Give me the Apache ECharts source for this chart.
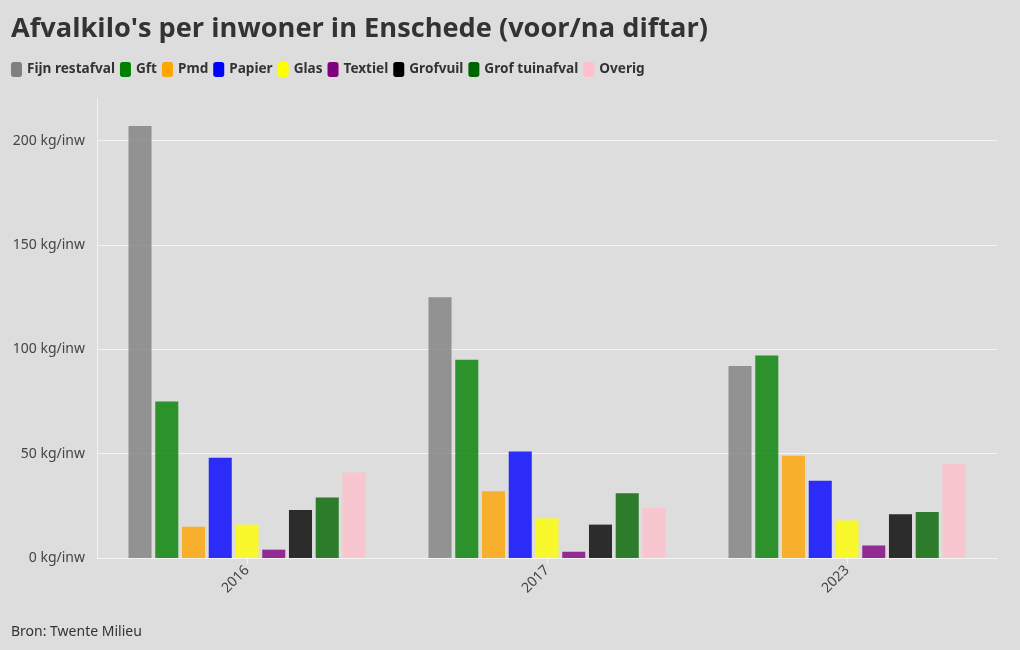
<!DOCTYPE html>
<html>
<head>
<meta charset="utf-8">
<script src="https://cdn.jsdelivr.net/npm/echarts@6/dist/echarts.min.js"></script>
<style>
html,body{margin:0;padding:0;background:#dddddd;}
#chart{width:1020px;height:650px;}
</style>
</head>
<body>
<div id="chart"></div>
<script>
const years = ['2016', '2017', '2023'];
const seriesNames = ['Fijn restafval', 'Gft', 'Pmd', 'Papier', 'Glas', 'Textiel', 'Grofvuil', 'Grof tuinafval', 'Overig'];
const fijnRestafval = [207, 125, 92];
const gft = [75, 95, 97];
const pmd = [15, 32, 49];
const papier = [48, 51, 37];
const glas = [16, 19, 18];
const textiel = [4, 3, 6];
const grofvuil = [23, 16, 21];
const grofTuinafval = [29, 31, 22];
const overig = [41, 24, 45];
const colors = ['#808080', '#008000', '#ffa500', '#0000ff', '#ffff00', '#800080', '#000000', '#006400', '#ffc0cb'];
const values = [fijnRestafval, gft, pmd, papier, glas, textiel, grofvuil, grofTuinafval, overig];

const FONT = '"Noto Sans", sans-serif';
const chart = echarts.init(document.getElementById('chart'), null, {renderer: 'canvas'});
chart.setOption({
  backgroundColor: '#dddddd',
  animation: false,
  color: colors,
  title: [{
    text: "Afvalkilo's per inwoner in Enschede (voor/na diftar)",
    left: 6, top: 11,
    textStyle: {fontFamily: '"Open Sans", sans-serif', fontWeight: 'bold', fontSize: 27.2, color: '#333333'}
  }, {
    text: 'Bron: Twente Milieu',
    left: 6, top: 620,
    textStyle: {fontFamily: FONT, fontWeight: 'normal', fontSize: 14, color: '#333333'}
  }],
  legend: {
    left: 6, top: 57,
    icon: 'roundRect',
    itemWidth: 11, itemHeight: 15,
    itemGap: 5,
    data: seriesNames,
    itemStyle: {opacity: 1},
    textStyle: {fontFamily: FONT, fontWeight: 'bold', fontSize: 13.6, color: '#333333'}
  },
  grid: {left: 97, right: 23, top: 99, bottom: 92, containLabel: false},
  xAxis: {
    type: 'category',
    data: years,
    axisLine: {show: true, lineStyle: {color: '#f4f4f4', width: 1}},
    axisTick: {show: true, alignWithLabel: true, length: 6, lineStyle: {color: '#f4f4f4'}},
    axisLabel: {rotate: 45, fontFamily: FONT, fontSize: 14, color: '#444444', margin: 10},
    splitLine: {show: false}
  },
  yAxis: {
    type: 'value',
    min: 0, max: 220, interval: 50,
    axisLine: {show: true, lineStyle: {color: '#f4f4f4', width: 1}},
    axisTick: {show: false},
    axisLabel: {
      fontFamily: FONT, fontSize: 14, color: '#444444', margin: 12,
      showMaxLabel: false,
      formatter: v => v + ' kg/inw'
    },
    splitLine: {show: true, showMaxLine: false, lineStyle: {color: '#f4f4f4', width: 1}}
  },
  series: seriesNames.map((n, i) => ({
    name: n,
    type: 'bar',
    data: values[i],
    barCategoryGap: '21%',
    barGap: '16%',
    itemStyle: {color: colors[i], opacity: 0.8}
  }))
});
</script>
</body>
</html>
